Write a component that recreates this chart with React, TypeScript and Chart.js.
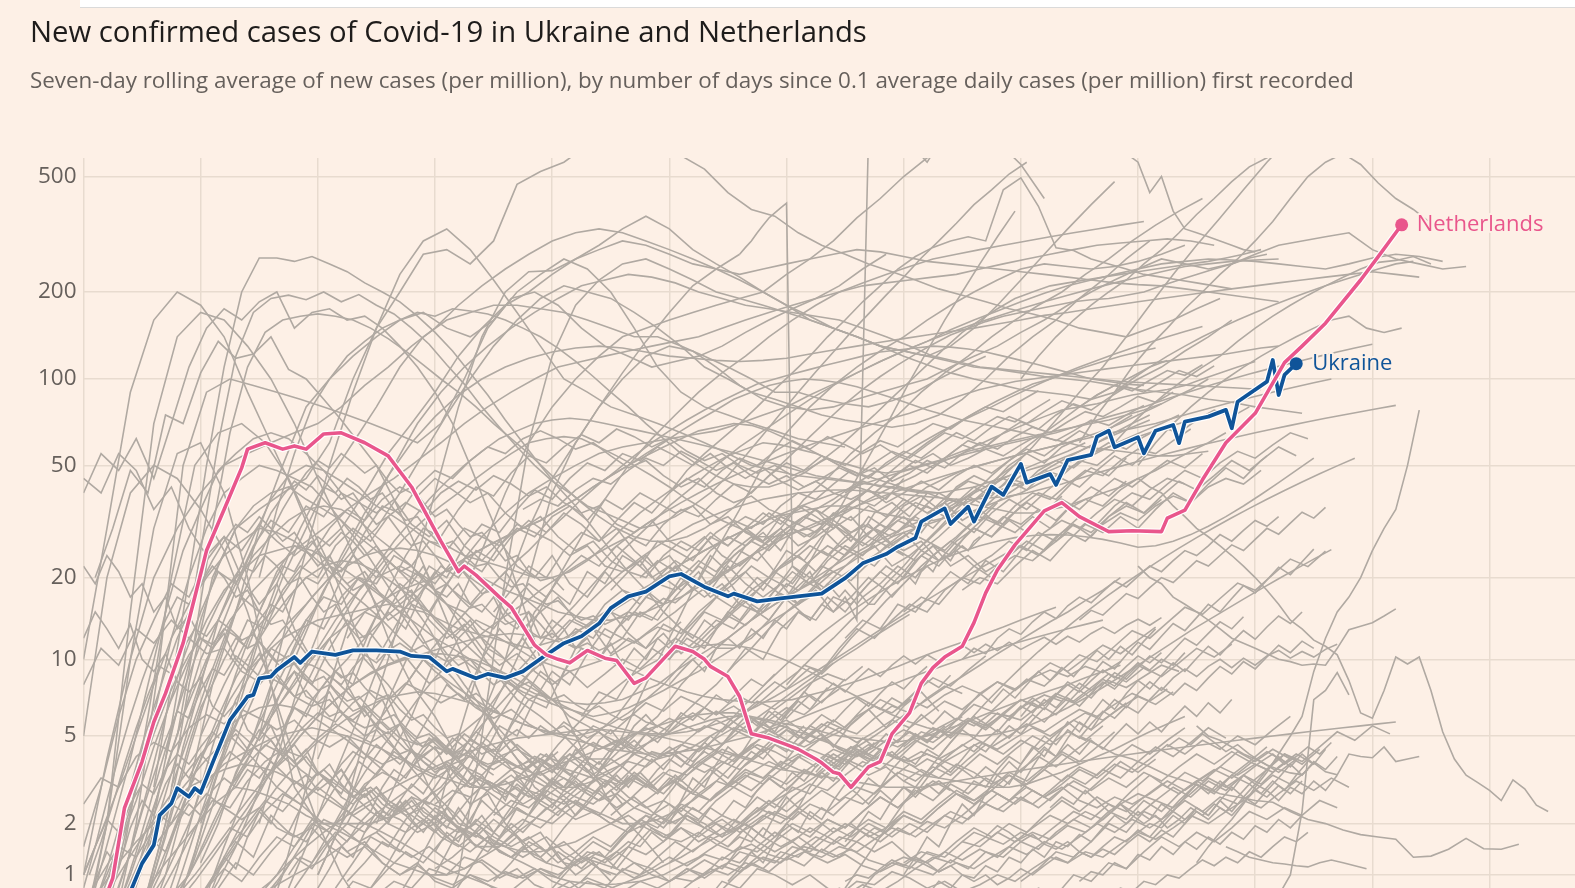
import React, { useEffect, useRef } from "react";
import { Chart, registerables } from "chart.js";

Chart.register(...registerables);

// ---------- axis / tick data ----------
const yTickValues = [1, 2, 5, 10, 20, 50, 100, 200, 500];
const xTickStep = 20;
const xMaxDay = 265;
const yMaxValue = 579;

// ---------- highlighted series (days since 0.1 cases per million, 7-day avg per million) ----------
const netherlandsDays = [0,2,5,7,10,12,14,17,19,21,24,27,28,31,34,36,38,41,44,48,52,56,61,64,65,67,71,73,77,79,81,83,86,89,91,94,96,101,104,106,107,110,112,114,117,120,122,125,126,128,129,131,134,136,138,141,143,145,147,150,152,154,156,159,160,164,167,170,175,179,184,185,188,191,195,200,204,205,208,212,218,221,224,225];
const netherlandsCases = [0.12,0.35,0.95,2.4,3.9,5.7,7.4,11.5,17,25,35,49,57,60,57,58.5,57,64.4,65,60,54,42,27,21,22,20.4,17,15.6,11.3,10.4,10,9.7,10.8,10.1,9.9,8.1,8.5,11.2,10.7,10,9.4,8.6,7.2,5.1,4.9,4.6,4.4,4.0,3.85,3.5,3.45,3.0,3.7,3.9,5.1,6.2,8.1,9.3,10.2,11.2,13.7,17.6,21.3,26.2,27.7,34.6,37,33,29.2,29.4,29.2,32.6,34.8,44.5,60,76,105,114,130,156,220,265,320,341];

const ukraineDays = [0,4,8,10,12,13,15,16,18,19,20,22,25,28,29,30,32,33,36,37,39,43,46,50,54,56,59,62,63,67,69,72,75,79,82,85,88,90,93,96,100,102,106,110,111,115,119,126,130,133,137,139,142,143,147,148,151,152,155,157,160,161,165,166,168,172,173,175,176,180,181,183,186,187,188,192,195,196,197,202,203,204,205,207];
const ukraineCases = [0.1,0.3,0.75,1.19,1.53,2.21,2.52,2.97,2.71,2.97,2.83,3.83,5.8,7.19,7.3,8.47,8.6,9.1,10.2,9.7,10.7,10.4,10.8,10.8,10.7,10.3,10.2,9.0,9.2,8.47,8.8,8.5,9.0,10.4,11.5,12.2,13.6,15.5,17.1,17.8,20.2,20.6,18.5,17.1,17.5,16.4,16.8,17.5,19.9,22.5,24.3,25.8,27.7,31.7,35.3,31.1,35.8,31.7,42.1,39.4,50.6,43.5,46.6,42.7,52.2,54.4,63,66.1,57.9,62.7,55.1,66.1,69.2,59.8,71.1,74,78.1,67.4,83.4,97.9,116.4,88,103.3,113];

// ---------- other countries: [first day, day step, values] ----------
type Series = [number, number, number[]];

const greyHigh: Series[] = [
  [0,3,[40,55,48,62,45,70,110,150,175,160,185,200,150,170,175,160,165,150,130,110,90,70,50,35,25,16,10,7,5,3.5,2.5,2,1.6,1.2]],
  [2,3,[20,30,48,40,75,70,105,135,118,122,140,108,100,85,72,60,50,38,28,20,14,10,7,5,4,3,2.6]],
  [12,3,[3,8,20,50,110,200,262,262,255,265,250,235,215,200,185,165,145,125,105,88,72,60,50,42,36,30,25,21,18,15,13,12,11,11,12,14,17,21,27,35,45,58,75,98,125,160,200,250,310,380]],
  [14,3,[4,10,25,60,120,170,190,195,188,200,185,196,180,168,150,132,112,96,80,68,58,50,44,40,36,34,32,30,31,33,36,40,46,54,64,76,90,106,124,145,168,195,225,262,300,345,400,450,510,560]],
  [16,3,[5,12,30,65,110,145,160,165,168,165,160,150,138,125,112,100,90,80,70,62,55,48,42,37,33,30,28,27,27,28,30,33,37,42,48,55,63,72,82,92,102,112,122,132,142,150,158,165,170,175,180,185,188,190,195,200,210,220,230,240,250,262,270]],
  [30,3,[20,35,55,80,100,120,135,150,160,170,165,175,172,168,160,150,140,128,115,102,90,80,70,62,55,50,46,43,42,42,44,47,52,58,66,75,86,98,112,128,145,160,175,190,200,210,215,220,225,230,235,240,245,250,255,262,270,280]],
  [30,4,[5,12,25,50,90,150,200,270,280,250,300,470,520,560,640,700,680,640,590,530,440,385,365,320,290,270,250,235,220,205,195,185,175,168,160,150,145,140,150,160,175,190]],
  [40,4,[1,2,5,10,20,40,80,140,200,235,237,260,290,330,365,330,280,250,225,200,180,165,150,140,130,120,112,105,100,96,92,90,88,85,90,100,110,125,140,160]],
  [60,4,[2,5,10,18,30,45,60,80,105,135,170,210,240,270]],
  [112,1,[270,285,300,320,340,360,375,390,405,22,21,20,21,19,18,19,18,17,18,17,16,17,16,16,17,18,17,18,19,20,19,21,22,21,23,24,23,25,26,25,27,28]],
  [100,2,[8,9,10,9,11,12,11,13,12,14,13,15,14,16,15,17,14,700,900,800,700,620,560,650,750,800,760,700,620,590,650,720,760,740,700,680,660,640,620,600,560,440,500,380,330,320,310,300,290,280,275]],
  [100,3,[40,48,55,62,70,80,92,105,120,140,160,185,210,240,265,285,300,310,300,450,495,395,284,278,260,250,240,230,225,220,215,210,205]],
  [10,4,[0.5,2,8,20,30,35,40,45,60,100,150,230,300,330,280,220,170,130,100,90,80,75,70,65,60,55,50,48,46,45,44,43,42,41,40]],
  [5,4,[0.3,2,10,50,90,100,95,90,85,80,75,70,65,60,70,100,150,190,200,180,150,130,120,110,115,120,130,145,160,175,190,210,240,270]],
  [10,4,[0.2,0.5,1,3,6,12,20,30,45,60,80,110,140,160,170,180,180,175,170,160,150,140,140,130,120,110,100,90,90,85,82,80,84,90,100,110,120]],
  [10,4,[0.2,1,3,8,15,30,50,80,100,120,140,160,170,150,140,160,200,230,260,240,200,150,110,90,80,75,70,66,62,60,58]],
  [0,4,[0.3,2,10,30,55,60,40,20,8,3,2,2,3,4,6,10,16,25,40,60,80,100,120,140,150,160,170,180,190,200,230,260,300,360,420,500,580,650,700,660,550,420]],
  [20,4,[5,8,12,15,20,25,30,40,55,70,90,120,150,180,200,230,260,280,300,290,270,250,240,230,240,250,260,270,280,275,265,255,250,245,240,235,230,225,220,215,212,210,205,200,195,190,185]],
  [25,4,[3,5,8,12,18,25,35,50,70,90,110,130,150,170,190,210,220,230,225,215,200,190,180,175,170,165,160,150,140,130,120,115,110,108,106,104,102,100,98,97,96,95,94,93,92]],
  [0,4,[1,4,10,20,30,40,50,55,60,65,70,80,95,110,130,150,180,210,240,270,300,320,330,320,300,280,260,240,220,200,180,160,150,140,130,125,120,115,110,108,105,102,100,98,95,92,90,88,85,83,80,78,76]],
  [0,4,[0.2,2,15,70,140,170,160,130,100,70,45,30,20,12,8,6,4,3,2.5,2.2,2,2.5,3.5,5,8,12,18,25,35,50,65,80,95,110,125,140,160,180,200,220,240,250,245,240,245,255,270,290]],
  [3,4,[0.3,1.5,6,20,50,65,70,60,45,30,20,12,8,5,3,2,1.5,1.5,2,3,4,5,6,8,10,13,16,20,25,30,38,45,55,65,75,90,105,120,140,160,180,200,230,260,300,340,380,420]],
  [30,4,[0.2,1,3,8,15,20,22,20,16,12,9,7,6,5,4,4,5,6,8,10,12,14,16,18,20,22,25,28,30,32,35,40,48,58,72,90,110,140,180,230,290,360,450,560,680]],
  [10,4,[0.5,1,2,4,7,10,13,16,20,25,30,40,55,75,100,130,160,190,210,200,190,170,150,130,110,100,90,85,80,75,72,70,68,70,75,85,100,120,140,160,190,220,260,300]],
  [5,4,[0.3,1,3,6,10,14,18,22,26,30,35,40,45,52,60,70,80,90,100,110,115,120,125,130,135,140,150,160,170,180,190,200,215,230,245,260,270,280,290,300,310,320,330,340,350]],
  [0,4,[5,20,40,50,45,35,25,15,8,4,2,1,0.5,0.3,0.2,0.3,1,5,20,60,120,180,220,250,260,240,220,200,190,180,170,160,150,140,130,125,120,130,150,180,220,270,330,400,480]],
  [0,4,[10,30,90,160,200,180,140,90,60,40,25,15,10,8,6,5,4,6,10,20,40,60,80,100,120,130,125,110,95,85,80,78,80,85,90,95,100,110,120,130,145,160,180,200,220,240,260,250,240,250,270,290,300,310,320,280,260,250,240,245]],
  [40,4,[1,2,4,7,11,16,22,28,34,40,45,50,55,58,60,62,64,66,70,75,80,88,96,105,115,125,135,148,160,172,185,198,210,220,230,240,250,255,260,258,255,250,245,240,250,262,270,265,255]],
  [20,4,[0.5,1.5,3,6,10,16,24,34,46,60,74,88,100,110,118,124,128,130,128,124,120,118,116,115,116,118,122,126,130,134,138,142,146,150,155,160,166,170,175,180,185,190,195,200,205,210,215,220,225,230,235,230,225]],
  [20,4,[0.2,0.4,0.6,0.8,1,1.2,1.5,2,2.5,3,4,5,6,8,10,13,16,20,25,30,36,42,50,58,66,75,85,95,105,115,125,135,145,155,165,175,185,195,205,215,225,235,245,250,255,258,260]],
  [5,4,[0.3,1,2,3,4,5,4,3,2.5,2,2,2,2.2,2.5,3,4,6,9,14,20,28,38,50,62,75,90,105,120,140,160,180,200,210,215,220,225,230,240,250,260,270,280,290,295,300,305,300,290]],
];

const greyMid: Series[] = [
  [5,3,[0.2,0.6,1.5,4,8,14,22,30,36,40,42,38,35,32,28,25,22,20,18,16,15,13,12,11,10,9.5,9,9.5,10,11,12,13.5,15,17,19,21,23,26,29,32,35,38,42,46,50,55,60,65,70,75,80,86,92,98,104,110,116,122,128,134,140,146,152]],
  [8,3,[0.3,0.8,2,4.5,8,14,20,28,38,46,50,48,44,40,36,33,30,27,26,24,23,22,21,20,20,21,23,26,30,34,38,42,46,50,54,57,60,59,57,55,52,50,48,47,48,50,52,55,58,62,66,70,74,78,80,82,85,88,90,92,95,100,105,110,115]],
  [10,3,[0.2,0.4,0.7,1.2,2,3,4,5.5,7,9,11,14,17,20,24,28,32,36,40,45,50,55,60,62,63,62,58,54,50,46,42,38,35,32,30,28,28,29,30,32,34,37,40,43,46,50,53,56,58,60,62,64,66,68,70,72,75,78,82]],
  [3,3,[0.5,1.2,3,6,12,20,30,40,45,50,48,45,42,36,30,25,20,16,13,10,8.5,7,6,5,4.2,3.5,3,3,3.2,3.5,4,4.6,5.3,6,7,8,9.5,11,13,15,17,20,23,26,30,34,38,42,45,48,50,52,54,56,58,60,63,66,70,75,80,86,92,100]],
  [12,3,[0.4,0.7,1,1.6,2.5,3.5,5,6.5,8,10,12,13.5,15,16.5,18,19,20,22,24,26,28,30,32,35,38,42,46,50,54,58,62,66,68,70,69,66,62,58,54,50,47,45,43,41,40,38,37,36,35,34,34,35,36,38,40,42,45,48,52,56,60,65]],
  [0,3,[1,1.8,3,5,8,12,16,20,24,27,30,29,27,24,21,18,16,14,12,10.5,9,8,7.2,6.5,6,5.6,5.3,5.1,5,5.2,5.6,6.2,7,8,9.5,11,13,15,17,20,23,26,30,34,38,43,48,54,60,66,72,78,84,90,96,100,105,110,115,120,124,128]],
  [15,3,[0.3,0.5,0.8,1.3,2,2.8,4,5.2,7,8.5,10,12,14,16,18,20,22,24,26,28,30,32,35,38,42,46,50,55,60,66,72,78,85,90,95,98,100,99,97,94,90,86,82,78,75,72,70,68,66,64,62,60,58,57,56,55,54,54,55,56]],
  [20,3,[0.5,0.9,1.5,2.5,4,6,8,11,14,18,22,27,32,38,44,50,56,62,66,70,72,73,72,70,68,66,64,62,60,58,56,54,52,50,48,46,45,44,43,42,41,40,40,41,42,44,46,48,50,53,56,60,64,68,72]],
  [5,3,[0.4,1,2,3.5,6,10,14,19,24,28,32,35,36,35,32,28,25,22,19,16,14,12,10.5,9,8,7,6,5.5,5,4.6,4.3,4,4.2,4.5,5,5.5,6.2,7,8,9,10.5,12,14,16,19,22,26,30,35,40,46,52,58,65,72,80,88,95,102,110,116]],
  [25,3,[0.2,0.35,0.6,1,1.5,2.2,3,4,5.2,6.5,8,10,12,14,16.5,19,22,25,29,33,38,43,48,54,60,66,72,78,84,90,96,100,104,108,112,116,120,124,126,128,130,129,127,124,120,116,112,108,104,100,98,96,95]],
  [2,3,[0.8,2,4,8,15,25,35,48,55,62,65,62,55,48,40,33,26,20,16,13,10,8,6.5,5,4,3.4,3,2.6,2.4,2.2,2,2,2.1,2.3,2.6,3,3.6,4.3,5,6,7,8.5,10,12,14,16.5,19,22,25,28,32,36,40,44,48,52,56,60,65,70,75]],
  [10,3,[0.5,1,2,3.5,5,7,9,10.5,12,13,14,14.5,15,15.5,16,15.5,15,14,13,12.5,12,11.5,11,11.5,12,13,14,15.5,17,19,21,23,25,27,29,31,33,34,35,36,36,35,34,33,32,32,33,34,36,38,40,43,46,50,54,58,62,66,70,75]],
  [30,3,[0.3,0.5,0.8,1.2,1.8,2.6,3.5,4.5,5.6,7,8.5,10,11.5,13,14.5,16,18,20,22,24,26,28,31,34,37,40,43,46,49,52,55,58,61,64,67,70,73,76,80,84,88,92,95,98,100,102,104,106,108,110,112,114,116,118,120,122,125,128,130]],
  [40,3,[0.2,0.3,0.5,0.8,1.2,1.8,2.5,3.3,4.2,5.2,6.3,7.5,8.8,10,11.5,13,14.5,16,17.5,19,21,23,25,27,29,31,33,35,37,39,41,43,45,47,49,51,53,55,57,59,61,63,65,68,71,74,77,80,84,88,92,96,100,104,108,112,116,120,124,128,132]],
  [0,3,[0.4,0.8,1.5,2.6,4.5,7,10,14,18,21,24,25,26,25,23,21,19,17,15,13.5,12,11,10,9,8.2,7.5,7,6.6,6.3,6,6.2,6.5,7,7.6,8.3,9,10,11,12.3,13.7,15,16.5,18,20,22,24,26.5,29,32,35,38,41,44,47,50,53,56,60]],
  [50,3,[0.3,0.6,1,1.6,2.4,3.4,4.6,6,7.6,9.4,11.4,13.6,16,18.5,21,23.5,26,28.5,31,33,35,36.5,38,39,40,40.5,41,41,40.5,40,39.5,39,38.5,38,38,38.5,39,40,41.5,43,45,47,49,51,53,55,57,59,61,63,65,67,69,71,73,75,77,79,81]],
  [18,3,[1,2,3.5,5.5,8,11,14,17,20,22,24,25,25.5,25,24,22.5,21,19.5,18,17,16,15,14.5,14,14,14.5,15,16,17,18.5,20,22,24,26,28,30,32,34,36,38,40,42,44,46,48,50,52,54,56,58,60,62,64,66,68,70,73,76,79,82,85,88,91,94,97,100]],
  [8,3,[0.3,0.7,1.4,2.5,4,6,8.5,11,14,17,20,22,23,22.5,21,19,17,15,13,11.5,10,9,8,7.4,7,6.8,6.7,6.8,7,7.5,8,9,10,11,12,13.5,15,16.5,18,20,22,24,26,28,30,32,34,36,38,40,42,44,47,50,53,56,59,62,65,68,71,74,77]],
  [90,3,[1.1,1.5,2,2.6,3.3,4.1,5,6,7.1,8.3,9.6,11,12.5,14,15.6,17.2,18.8,20.4,22,23.5,24.8,26,27,27.8,28.3,28.5,28.4,28,27.4,26.6,25.7,26,27,28.5,30.5,33,36,39.5,43.5,48,53]],
  [130,3,[0.8,1.2,1.7,2.3,3,3.8,4.7,5.7,6.8,8,9.3,10.7,12.2,13.8,15.5,17.3,19.2,21.2,23.3,25.5,27.8,30.2,32.7,35.3,38,40.8,43.7,46.7,49.8,53]],
  [60,3,[0.4,0.7,1.1,1.6,2.2,2.9,3.7,4.6,5.5,6.5,7.5,8.5,9.4,10.2,10.8,11.2,11.4,11.3,11,10.5,9.9,9.2,8.5,7.8,7.2,6.6,6.1,5.7,5.4,5.2,5.1,5,5.1,5.3,5.6,6,6.5,7.1,7.8,8.6,9.5,10.5,11.6,12.8,14,15.3,16.7,18.2,19.8,21.5,23.3,25.2]],
  [25,3,[2,2.6,3.3,4.1,5,6,7,8,8.9,9.6,10.1,10.4,10.5,10.3,9.9,9.3,8.6,7.9,7.2,6.6,6.1,5.7,5.4,5.2,5.1,5.1,5.2,5.4,5.7,6.1,6.6,7.2,7.9,8.7,9.6,10.6,11.7,12.9,14.2,15.6,17.1,18.7,20.4,22.2,24.1,26.1]],
];

const greyJaggedMid: Series[] = [
  [20,3,[1.2,2,3.5,5,8,11,14,13,17,20,19,24,22,27,25,30,28,26,31,29,27,24,26,22,21,23,19,18,20,17,19,21,18,22,24,21,25,28,26,30,33,29,35,38,34,40,44,41,47]],
  [35,3,[0.8,1.5,2.6,4,6,9,12,16,15,19,23,21,26,30,28,33,36,32,38,35,40,37,34,36,31,33,29,27,30,26,28,31,27,33,30,36,39,35,42,46,43,50,55,51,58,62]],
  [5,3,[0.6,1.4,3,6,10,15,21,19,26,32,29,36,33,40,37,34,38,31,28,32,26,23,27,22,20,24,19,17,21,18,16,19,22,18,24,21,26,29,25,32,35,30,37,41,38,45]],
  [50,3,[2,3,4.5,6,8,7,10,13,11,15,18,16,21,19,24,22,27,25,23,28,26,30,27,33,31,29,34,32,36,33,38,35,40,37,42,39,45,43,48,46,52,50,56]],
  [15,3,[3,5,8,12,17,15,21,26,24,30,35,32,38,42,39,45,41,37,40,34,30,33,28,25,27,23,21,24,20,18,21,17,19,22,20,25,23,28,31,27,34,37,33,40]],
  [70,3,[4,5.5,7,6.5,9,11,10,13,15,14,17,20,18,22,25,23,27,30,28,32,29,26,29,25,23,26,22,24,21,23,26,24,28,31,29,33,36,34,38]],
  [40,3,[6,9,8,12,15,13,18,22,20,25,23,28,32,29,34,31,27,30,25,22,24,20,18,21,17,15,18,16,14,17,15,18,21,19,23,26,24,29,33,31,36,40,38,44,49,46,53]],
  [100,3,[10,12,11,14,16,15,18,21,19,23,26,24,28,32,30,35,38,36,41,45,42,48,52,49,55,60,57,63,68,65,72,78,74,80]],
  [10,2,[0.5,1,1.8,3,4.6,6.5,8,10,12,11,14,16,15,18,20,19,22,21,24,22,20,23,21,19,22,18,17,19,16,15,17,14,13,15,12,14,13,11,12,10,11.5,9.5,11,10,12,11,13,12,14,13,15,14,16,15,17,19,18,20,22,21]],
  [60,3,[1,1.6,2.4,3.5,5,7,9,8,11,13,12,15,18,16,20,23,21,25,28,26,30,33,31,35,38,36,40,37,34,37,32,35,31,29,33,30,35,38,36,41,45]],
  [120,3,[8,9.5,9,11,13,12,14,16,15,18,20,19,22,24,23,26,29,27,31,34,32,36,39,37,42,45,43,48]],
  [25,3,[10,14,13,18,22,20,26,30,27,33,37,34,40,44,41,46,43,39,42,37,34,36,31,29,32,27,25,28,24,22,25,21,23,26,24,28,31,29,33,37,35,40,44,42,47,52]],
  [80,3,[12,14,13,16,18,17,20,23,21,25,28,26,30,33,31,35,32,29,31,27,25,27,23,25,22,24,27,25,29,32,30,34,38,36,41,45,43]],
  [0,3,[1.5,3,6,10,14,19,17,23,28,25,31,27,24,27,22,19,21,17,15,17,14,12,14,11,10,12,9.5,11,13,12,15,14,17,16,19,22,20,24,27,25,29,33,31]],
  [140,3,[15,17,16,19,22,20,24,27,25,29,33,31,36,40,38,43,48,45,51,56,53,59,65,62]],
  [90,3,[18,21,20,24,27,25,29,32,30,34,31,28,30,26,24,26,22,24,27,25,29,33,31,36,40,38,43,48,46,52,57,55,61,67]],
  [30,3,[5,7,9,8,11,14,12,16,19,17,21,18,16,19,15,13,15,12,11,13,10.5,12,11,13.5,12.5,15,17,15.5,18,20,18.5,22,25,23,27,30,28,32,36,33,38,42]],
  [55,3,[8,10,9,12,14,13,16,19,17,21,24,22,26,23,20,22,19,17,19,16,18,21,19,23,26,24,28,31,29,33,30,35,39,36,41,46]],
  [85,3,[6,7.5,7,9,11,10,12.5,15,14,17,20,18,22,20,18,20,17,19,22,20,24,27,25,29,33,31,35,32,37,42,39,44]],
  [110,3,[9,11,10,13,15,14,17,16,19,22,20,24,22,26,30,28,32,29,34,38,35,40,45,42,47,52,49,55]],
  [130,3,[12,14,13,16,15,18,21,19,23,21,25,29,27,31,28,33,37,34,39,44,41,46,52,48,54]],
  [45,3,[12,15,14,18,21,19,23,20,18,21,17,15,17,14,13,15,12.5,11,12.5,10.5,12,14,13,15.5,14,17,19.5,18,21,24,22,26,29,27,31,35,32,37]],
  [65,3,[3,4,5.5,5,7,9,8,10.5,13,12,15,14,17,20,18,22,19,17,19,16,18,15,17,20,18,21,25,23,27,30,28,33,37,34,39]],
  [150,3,[18,20,19,22,25,23,27,31,29,33,30,35,40,37,43,49,45,52,58,54]],
  [20,3,[2,3.5,5.5,8,11,10,14,17,16,20,18,16,18,14,12,13.5,11,9.5,10.5,9,8,9,7.8,8.8,10,9.2,10.6,12,11,12.8,14.5,13.4,15.5,17.5,16,18.5,21,19.5,22.5,26,24]],
  [95,3,[20,23,21,25,29,26,30,34,31,36,33,30,33,28,26,29,25,28,32,29,34,38,35,40,45,42,48,54,50,57]],
];

const greyUpperMid: Series[] = [
  [50,3,[10,13,17,22,20,26,31,29,35,41,38,45,51,48,55,52,58,54,50,55,49,45,49,44,41,44,40,38,41,37,40,44,41,46,50,47,52,57,54,60,66,62,69,75]],
  [70,3,[15,18,22,20,25,29,27,32,37,34,40,45,42,48,53,50,56,61,57,63,59,55,59,54,51,55,50,53,57,54,59,64,61,66,72,69,75,81]],
  [90,3,[25,28,26,31,35,33,38,43,40,46,51,48,54,50,46,49,44,47,52,49,55,60,57,63,68,65,71,77,74,80,87,83,90]],
  [40,3,[4,6,9,13,18,24,30,28,35,42,39,47,54,51,58,64,60,67,63,58,62,56,52,55,50,47,50,46,49,53,50,56,61,58,64,70,67,74,80,77,84,91]],
  [110,3,[30,33,31,36,40,38,43,48,45,51,56,53,59,65,61,68,74,70,77,84,80,88,95,91,99,107,103,112]],
  [30,3,[2,4,7,11,16,22,29,36,34,42,48,45,52,58,55,62,66,62,57,60,54,49,52,46,42,45,40,37,39,35,33,36,34,38,42,40,45,50,47,53,59,56,63]],
  [130,3,[40,44,42,47,52,49,55,61,58,65,71,67,75,82,78,86,94,90,98,107,102,111]],
  [75,3,[35,38,36,41,45,43,48,53,50,56,52,48,51,46,43,46,42,45,49,46,51,56,53,59,65,62,68,74,71,78,85]],
  [150,2,[10,11,10.5,12,13,12.4,13.8,15,14.2,15.8,17,16.2,17.8,19.4,18.5,20.2,22,21,23,25,24,26,28.5,27,29.5,32,30.5,33]],
  [160,2,[6,6.8,6.4,7.3,8.2,7.7,8.7,9.8,9.2,10.4,11.6,10.9,12.2,13.6,12.8,14.3,16,15,16.8,18.7,17.6,19.6,21.8,20.5,22.8,25.3]],
  [170,2,[14,15.2,14.6,16,17.5,16.8,18.4,20,19.2,21,23,22,24,26.2,25,27.4,30,28.6,31.3,34.2,32.6,35.6]],
  [140,3,[4.5,5.2,4.9,5.8,6.7,6.3,7.3,8.4,7.9,9.1,10.4,9.8,11.2,12.8,12,13.7,15.6,14.7,16.8,19.1,18,20.5,23.3,21.9,24.9]],
];

const greyLow: Series[] = [
  [0,3,[0.2,0.35,0.6,1,1.5,2,2.6,3.2,3.8,4.2,4.6,5,5.2,5.4,5.2,5,4.7,4.4,4,3.7,3.4,3.2,3,3,3.1,3.3,3.5,3.8,4,4.3,4.6,5,5.3,5.6,5.9,6.1,6.2,6.2,6,5.8,5.6,5.4,5.2,5,4.9,4.8,4.7,4.8,5,5.3,5.6,6,6.4,6.8,7.2,7.6,8,8.5,9,9.5]],
  [5,3,[0.3,0.5,0.8,1.2,1.6,2.1,2.6,3,2.9,2.7,2.5,2.2,2,1.8,1.6,1.4,1.2,1.1,1,1,1.1,1.3,1.5,1.8,2.1,2.5,2.9,3.3,3.7,4.1,4.5,4.9,5.2,5.5,5.8,6,6,5.8,5.5,5.2,4.9,4.6,4.3,4,3.8,3.6,3.4,3.3,3.2,3.1,3,3,3.1,3.3,3.5,3.8,4.1,4.4,4.8,5.2,5.6,6]],
  [10,3,[0.2,0.4,0.6,0.9,1.3,1.8,2.4,3.2,4,5,6,7,8,8.8,9.5,10,10.5,11,11.5,12,12.3,12.5,12.3,12,11.5,11,10.3,9.6,9,8.4,7.9,7.5,7.2,7,6.9,6.8,6.9,7,7.3,7.6,8,8.4,8.9,9.4,10,10.6,11.2,11.8,12.5,13.2,14,14.8,15.6]],
  [0,3,[0.5,0.8,1.2,1.6,2,2.5,3,3.3,3.6,3.8,3.7,3.5,3.2,2.9,2.6,2.3,2,1.8,1.6,1.4,1.2,1.05,0.95,0.85,0.75,0.7,0.65,0.62,0.65,0.7,0.8,0.9,1,1.15,1.3,1.5,1.7,1.9,2.2,2.5,2.8,3.1,3.5,4,4.5,5,5.6,6.3,7,7.8,8.6,9.5,10.5,11.5,12.6,13.8,15,16.5,18,20]],
  [15,3,[0.3,0.5,0.8,1.2,1.7,2.3,3,3.7,4.5,5.2,5.9,6.5,7,7.3,7.5,7.4,7.1,6.8,6.4,6,5.6,5.3,5,4.8,4.6,4.4,4.3,4.2,4.2,4.3,4.4,4.6,4.8,5,5.3,5.6,6,6.4,6.8,7.2,7.6,8,8.5,9,9.5,10,10.5,11,11.5,12,12.5,13,13.5,14]],
  [20,3,[0.2,0.3,0.5,0.7,0.9,1.2,1.5,1.8,2.1,2.4,2.7,3,3.3,3.6,3.9,4.2,4.5,4.7,4.9,5,5.1,5.2,5.3,5.3,5.2,5.1,5,4.8,4.6,4.4,4.2,4,3.8,3.6,3.5,3.4,3.3,3.2,3.1,3,3,3,3.1,3.2,3.3,3.4,3.5,3.6,3.7,3.8,3.9,4,4.1,4.2,4.3,4.4,4.5,4.6,4.7,4.8,4.9,5,5.1,5.2,5.3,5.4,5.5,5.6,5.7]],
  [10,2,[1.2,1.6,1.4,2,2.5,2.2,2.9,3.3,3,3.6,3.3,3.9,3.5,3.1,3.4,2.9,3.2,2.7,2.5,2.8,2.3,2.1,2.4,2.2,2,1.8,2.1,1.9,1.7,2,2.3,2.1,2.5,2.9,2.6,3.1,3.6,3.3,3.9,3.6,4.2,4.8,4.4,5.1,4.7,5.4,6.2,5.8,6.5,7.3,6.8,7.6,8.4,7.9,8.8]],
  [40,2,[0.8,1.1,1.5,1.3,1.8,2.3,2,2.6,3.1,2.8,3.4,3.9,3.6,4.2,4.7,4.3,4.9,5.3,4.9,5.5,5.1,5.7,5.3,4.9,5.2,4.7,4.4,4.8,4.3,4.1,4.5,4.2,3.9,4.3,4,3.8,4.2,4.6,4.3,4.8,5.3,4.9,5.5,6.1,5.7,6.4,7.1,6.6,7.4,8.2,7.7,8.6,9.4]],
  [70,2,[1.5,1.9,2.4,2.2,2.8,3.3,3,3.6,4.1,3.8,4.4,4.9,4.5,5.1,5.5,5.2,5.8,6.2,5.8,6.3,5.9,5.5,5.9,5.4,5.1,5.5,5,4.7,5.1,4.6,4.3,4.6,4.2,4,4.3,3.9,3.7,4,3.8,4.2,4.6,4.3,4.8,5.3,4.9,5.5,6.1,5.7,6.4,7.1,6.6,7.4,8.2,7.7,8.6,9.5,9]],
  [100,2,[2,2.6,3.3,3,3.8,4.5,4.1,4.9,5.7,5.2,6.1,6.9,6.4,7.3,8.1,7.5,8.4,9.2,8.6,9.5,10.3,9.6,10.4,9.8,10.7,11.3,10.6,11.4,10.8,11.6,10.9,11.5,12.1,11.4,12.2,11.6,12.5,13.2,12.5,13.4,14.1,13.4,14.3]],
  [140,2,[1,1.3,1.7,1.5,2,2.5,2.2,2.8,3.4,3.1,3.8,4.5,4.1,4.9,5.7,5.2,6.1,7,6.4,7.4,8.3,7.7,8.7,9.7,9,10.1,11.2,10.4,11.6,12.8,11.9,13.2,14.5,13.6,15]],
  [160,2,[3,3.7,4.4,4.1,4.9,5.7,5.3,6.2,7,6.5,7.4,8.2,7.6,8.5,9.2,8.6,9.4,10,9.3,10.1,9.5,10.3,10.8,10.1,10.7,10.2,10.9,11.4]],
  [0,2,[0.5,0.9,1.4,1.1,1.9,2.6,2.2,3.1,3.8,3.3,4.2,3.7,4.6,5.1,4.4,5.3,4.8,4.1,4.6,3.9,3.4,3.8,3.1,2.7,3.0,2.5,2.2,2.6,2.1,1.8,2.2,1.9,2.4,2.0,2.7,3.1,2.6,3.4,2.9,3.7,4.2,3.6,4.4,3.9,4.8,5.3,4.6,5.5,6.1,5.4]],
  [20,3,[0.7,1.1,1.6,1.3,2.2,1.8,2.7,3.3,2.8,3.9,3.4,4.3,3.8,4.9,4.2,5.1,4.5,3.9,4.6,4.0,3.5,4.2,3.6,3.1,3.7,3.2,2.8,3.4,2.9,3.6,3.1,3.8,4.4,3.7,4.6,5.3,4.5,5.6,6.4,5.4,6.6,7.5,6.3]],
  [45,3,[0.9,1.2,1.6,1.4,1.9,2.4,2.1,2.7,3.2,2.9,3.5,4,3.6,4.2,4.7,4.3,4.9,5.4,5,5.6,5.2,5.8,5.3,4.9,5.3,4.8,4.5,4.9,4.4,4.1,4.5,4.1,3.9,4.2,3.9,4.3,4.7,4.4,4.9,5.4,5,5.6,6.2,5.8,6.5,7.2,6.7,7.5]],
  [80,3,[0.8,1.1,1.4,1.3,1.7,2.1,1.9,2.4,2.9,2.6,3.1,3.6,3.3,3.8,4.2,3.9,4.4,4.1,4.6,4.3,3.9,4.3,4,4.4,4.9,4.5,5,5.6,5.2,5.8,6.4,6,6.7,7.4,6.9,7.7]],
  [30,2,[3,4,5.2,6.5,6,7.4,8.6,8,9.3,10.4,9.7,10.8,11.5,10.7,11.3,10.4,9.8,10.3,9.5,8.8,9.2,8.4,7.8,8.2,7.5,7,7.3,6.7,6.3,6.6,6.1,5.8,6.1,5.7,5.5,5.9,5.6,6,6.5,6.1,6.7,7.2,6.8,7.5,8.2,7.7,8.5,9.3,8.8,9.7]],
  [110,2,[1.2,1.5,1.9,1.7,2.2,2.7,2.4,3,3.5,3.2,3.7,4.2,3.9,4.4,4.1,4.6,5.1,4.7,5.3,4.9,5.4,6,5.6,6.2,5.8,6.5,7.1,6.6,7.3,8,7.5,8.3,9.1,8.5,9.4,10.3,9.7,10.6]],
  [0,3,[0.3,0.6,1,1.5,2.1,2.8,3.6,4.5,5.3,6,6.5,6.7,6.5,6,5.4,4.8,4.2,3.6,3.1,2.7,2.3,2,1.8,1.6,1.5,1.4,1.4,1.5,1.6,1.8,2,2.3,2.6,3,3.4,3.9,4.4,5,5.7,6.4,7.2,8.1,9,10,11,12.2,13.4,14.7]],
  [15,2,[0.6,1.1,1.8,2.7,3.8,5,6.3,7.5,8.5,9.2,9.6,9.7,9.5,9,8.3,7.5,6.7,5.9,5.2,4.5,3.9,3.4,3,2.6,2.3,2,1.8,1.6,1.4,1.3,1.2,1.1,1,0.95,0.9,0.88,0.86,0.85,0.86,0.88,0.9,0.95,1,1.1,1.2,1.3,1.45,1.6,1.8,2,2.2,2.5,2.8,3.1,3.5]],
  [0,2,[22,19,24,21,17,19,15,17,13,14.5,12,11,12.5,10,9,10.5,8.5,8,9,7.2,6.8,7.5,6.2,5.8,6.4,5.4,5.1,5.6,4.8,4.5,4.9,4.3,4,4.4,3.8,3.6,3.9,3.4,3.2,3.5,3.1,2.9,3.2,2.8,2.6,2.9,2.5]],
  [0,3,[8,11,9.5,13,11.5,14,12,10.5,11,9,8.2,8.8,7.2,6.6,7,5.9,5.4,5.7,4.9,4.6,4.9,4.3,4.1,3.8,4,3.6,3.4,3.7,3.5,3.3,3.6,3.9,3.7,4.2,4.6,4.3,4.9,5.4,5.1,5.8,6.5,6.1,6.9,7.7]],
  [0,2,[12,15,13,11,13.5,10,9,10.5,8.2,7.5,8.5,6.6,6,6.8,5.3,4.8,5.5,4.3,3.9,4.4,3.5,3.2,3.6,2.9,2.7,3,2.5,2.3,2.6,2.2,2,2.2,1.9,1.7,1.9,1.6,1.5,1.7,1.4,1.3,1.5,1.2,1.15,1.3,1.1,1]],
  [0,3,[45,40,55,48,35,42,30,24,28,20,16,19,13,10,12,8,6,7,5,4,4.5,3.2,2.5,2.8,2,1.6,1.8,1.3,1,1.2,0.9]],
];

const greyJaggedLow: Series[] = [
  [10,3,[0.4,0.7,1.2,1.9,2.6,2.4,3.2,3.9,4.4,4.1,4.9,5.6,5.1,4.7,5.2,4.4,4.1,3.6,3.9,3.3,3,3.4,2.9,2.7,2.5,2.9,3.3,3.1,3.7,4.3,4.1,4.8,5.5,5.2,6,6.9,6.4,7.2,8.1,8.8,8.3,9.4]],
  [30,3,[0.7,1,1.5,2.1,1.8,2.4,3.1,3.5,3.2,3.9,4.5,4.2,4.8,4.4,3.9,3.6,4,3.4,3.1,2.8,3.2,2.7,2.4,2.6,2.3,2.8,3.2,3,3.5,3.9,3.6,4.3,4.9,5.4,5.1,5.9,6.6,6.2,7.1,7.9,7.4]],
  [50,3,[1.8,2.2,2.7,2.5,3.1,3.7,3.4,4.1,4.4,4,3.7,4.2,3.8,3.4,3.1,3.5,2.9,3.2,2.8,2.6,3,3.5,3.3,3.9,3.6,3.4,4,4.5,4.2,4.8,5.3,4.9,5.4,5.9,5.5,6.2,6,6.7,7.3,6.9]],
  [70,3,[0.9,1.2,1.6,1.4,1.9,2.4,2.2,2.8,3.3,3,3.6,3.4,3.9,4.4,4.1,4.6,4.3,3.9,4.4,4.1,3.8,4.3,4.8,4.5,5,4.7,5.3,5.9,5.5,6.1,5.8,6.6,7.2,6.8,7.6,8.3,7.8,8.6,9.5,9]],
  [0,3,[2.5,3.3,3,4.1,4.7,4.3,5.4,6.1,5.6,6.4,5.9,5.3,5.8,4.9,4.5,5,4.2,3.8,4.1,3.6,3.3,3.7,3.1,2.9,3.2,2.8,2.6,3,2.7,2.5,2.9,3.3,3,3.5,3.2,3.8,4.3,3.9,4.6,5.1,4.7,5.5]],
  [90,3,[2.2,2.6,3.1,2.8,3.4,3.9,3.6,4.2,4,4.7,5.3,4.9,5.6,5.2,6,6.6,6.2,7,6.5,7.3,7.9,7.4,8.2,7.7,8.5,9.1,8.6,9.4,8.9,9.8]],
  [20,2,[0.5,0.8,1.3,1.1,1.7,2.3,2,2.7,3.2,2.9,3.5,3.1,3.8,4.3,4,4.6,4.2,3.8,4.3,3.9,3.5,3.8,3.3,3,3.4,2.9,2.7,3.1,2.8,2.5,2.3,2.6,2.2,2.5,2.9,2.6,3,3.4,3.1,3.6,4,3.7,4.2,4.7,4.3,4.9,5.5,5.1,5.7,6.3,5.9,6.6,7.3,6.8,7.6,8.4]],
  [60,2,[1.4,1.8,1.6,2.1,2.6,2.3,2.9,2.7,3.3,3.8,3.5,4.1,3.8,3.5,3.9,3.4,3.1,3.5,3.2,2.9,3.3,3,2.8,3.2,3.6,3.3,3.8,4.3,4,4.6,4.3,4.9,5.5,5.2,5.8,5.4,6.1,6.8,6.4,7.1,6.7,7.5,8.3,7.8,8.7]],
  [110,2,[0.9,1.1,1.4,1.2,1.6,2,1.8,2.3,2.1,2.6,3.1,2.8,3.3,3,3.6,4.1,3.8,4.4,4.1,4.7,5.3,4.9,5.6,5.2,5.9,6.6,6.2,7,6.5,7.3,8.1,7.6,8.4,7.9,8.8,9.7,9.1,10,9.5,10.6]],
  [40,3,[0.5,0.8,1.2,1.7,1.5,2.1,2.6,2.4,2.9,3.4,3.1,3.6,3.3,3,3.3,2.9,2.6,2.8,2.4,2.2,2.5,2.1,1.9,2.2,2,2.4,2.2,2.7,3.1,2.9,3.4,3.9,3.6,4.2,4.8,4.4,5.1,5.8,5.4,6.2,7,6.5]],
  [130,2,[1.6,1.9,2.3,2.1,2.6,3,2.8,3.3,3.8,3.5,4,4.6,4.3,4.9,5.5,5.1,5.8,6.5,6.1,6.8,7.6,7.1,8,8.9,8.4,9.3,10.3,9.7,10.8,12,11.3,12.5,13.8,13,14.4]],
  [0,2,[1,1.5,2.1,1.8,2.5,3.1,2.8,3.6,4.2,3.8,4.5,5.2,4.7,5.3,4.8,4.3,4.8,4.1,3.7,4.1,3.5,3.2,3.6,3,2.7,3,2.6,2.4,2.7,2.3,2.1,2.4,2,1.9,2.2,1.8,2.1,2.4,2.2,2.6,2.4,2.9,3.3,3,3.5,4,3.7,4.3]],
  [150,2,[2.8,3.2,3,3.6,4.1,3.8,4.4,5,4.6,5.3,4.9,5.6,6.3,5.9,6.6,6.2,7,7.8,7.3,8.1,7.6,8.5,9.4,8.8,9.8,9.2,10.2,11.3,10.6,11.7,11]],
  [25,3,[3,3.8,4.6,4.2,5.3,6.2,5.7,6.8,7.6,7,8.1,7.5,6.8,7.4,6.5,5.9,6.4,5.6,5.1,5.5,4.8,4.4,4.8,4.2,3.9,4.3,3.8,3.5,3.9,3.6,4.1,4.6,4.3,5,5.7,5.3,6.1,7,6.5,7.5,8.5,7.9,9.1,10.3]],
  [100,3,[1.2,1.5,1.9,1.7,2.2,2.7,2.4,3,2.8,3.4,4,3.7,4.3,4,4.7,5.4,5,5.8,5.3,6.1,7,6.5,7.4,6.9,7.8,8.8,8.2,9.3,8.6,9.7,11,10.2,11.4]],
  [160,3,[0.9,1.1,1.4,1.3,1.6,2,1.8,2.3,2.1,2.6,3.1,2.8,3.4,3.9,3.6,4.2,3.9,4.5,5.2,4.8,5.5,5.1]],
  [45,2,[2,2.6,2.3,3,3.6,3.3,4,4.6,4.2,4.9,4.5,5.2,4.8,4.3,4.8,4.2,3.8,4.2,3.7,3.4,3.8,3.3,3,3.4,3,3.5,4,3.6,4.2,3.8,4.4,5,4.6,5.3,6,5.5,6.3,5.8,6.6,7.5,6.9,7.8]],
  [75,3,[3.5,4.2,3.9,4.7,5.5,5.1,5.9,6.8,6.3,7.2,6.7,6.1,6.6,5.9,5.4,5.8,5.2,4.8,5.2,4.7,5.2,5.8,5.4,6.1,6.9,6.4,7.3,8.2,7.6,8.6,9.7,9,10.1,11.3,10.5,11.8,13.2]],
  [5,2,[0.4,0.7,1.1,1.6,2.2,2,2.7,3.3,3,3.7,4.3,3.9,4.5,4.1,3.7,4.1,3.6,3.3,3.6,3.2,2.9,2.6,2.9,2.5,2.3,2.6,2.2,2,2.3,2,1.8,2.1,1.9,1.7,2,1.8,2.1,2.4,2.2,2.6,2.4,2.8,3.2,2.9,3.4]],
  [125,2,[3.5,4,3.7,4.3,4.9,4.5,5.1,4.7,5.4,6.1,5.6,6.3,5.8,6.6,7.4,6.8,7.7,7.1,8,9,8.3,9.3,8.6,9.7,10.8,10,11.2,10.4,11.7,13]],
];

const greyVeryLow: Series[] = [
  [15,3,[0.3,0.5,0.8,1.1,0.9,1.3,1.7,1.5,2,1.8,1.4,1.6,1.2,1,1.2,0.9,0.8,1,0.85,0.7,0.9,1.1,0.95,1.3,1.6,1.4,1.8,2.2,1.9,2.4,2.1,2.6,3,2.7,3.3,2.9,3.5,4,3.6,4.3,3.9,4.6,5.2,4.8,5.5]],
  [30,3,[0.6,0.9,1.3,1.1,1.6,2,1.8,2.3,2.1,1.8,2,1.6,1.4,1.7,1.5,1.3,1.5,1.2,1.4,1.7,1.5,1.9,2.2,2,2.5,2.3,2.8,3.2,2.9,3.4,3.1,3.6,3.3,3.9,4.4,4,4.6,5.2,4.7,5.4,6]],
  [40,3,[0.4,0.6,0.9,0.8,1.1,1.4,1.2,1.6,1.9,1.7,2.1,1.8,1.5,1.7,1.4,1.2,1.4,1.1,0.95,1.1,0.9,1.05,1.25,1.1,1.4,1.3,1.6,1.9,1.7,2.1,1.9,2.3,2.7,2.4,2.9,2.6,3.1,2.8,3.3,3,3.6,4.1,3.7,4.3,4.9]],
  [60,3,[1.1,1.3,1.6,1.4,1.8,2.1,1.9,2.3,2.6,2.3,2,2.2,1.9,1.7,1.9,1.6,1.8,2.1,1.9,2.3,2.1,2.5,2.9,2.6,3,2.8,3.3,3.8,3.4,3.9,3.6,4.2,3.8,4.4,5,4.6,5.2,4.8,5.5]],
  [80,3,[0.5,0.7,0.9,0.8,1.1,1,1.3,1.6,1.4,1.7,1.5,1.9,2.2,2,2.4,2.1,1.8,2,1.7,1.9,2.2,2,2.4,2.8,2.5,2.9,2.6,3.1,3.6,3.2,3.7,3.4,4,4.6,4.2,4.8,5.4]],
  [100,3,[0.9,1.1,1,1.3,1.2,1.5,1.8,1.6,1.9,1.7,2,1.8,1.6,1.9,1.7,2,2.3,2.1,2.5,2.3,2.7,2.4,2.8,3.2,2.9,3.3,3,3.5,3.2,3.7,4.2,3.8,4.3,3.9,4.5]],
  [120,3,[0.4,0.6,0.5,0.8,0.7,1,1.2,1.1,1.4,1.3,1.6,1.5,1.8,1.6,1.9,2.2,2,2.3,2.1,2.5,2.8,2.6,3,2.7,3.2,2.9,3.4,3.9,3.5,4]],
  [10,3,[0.2,0.4,0.7,1,1.4,1.9,1.7,2.3,2.8,2.5,3,2.6,2.2,2.5,2,1.8,2.1,1.7,1.5,1.8,1.5,1.3,1.5,1.2,1.1,1.3,1.1,1,1.2,1,0.9,1.1,0.95,1.15,1.05,1.3,1.2,1.5,1.4,1.7,1.5,1.9,1.7,2.1]],
  [50,3,[0.7,0.9,0.8,1.1,1,1.3,1.2,0.95,1.1,0.85,0.75,0.9,0.7,0.6,0.75,0.65,0.8,0.7,0.9,1.1,1,1.2,1.1,1.4,1.3,1.6,1.9,1.7,2,1.8,2.2,2,2.4,2.8,2.5,2.9,3.4,3.1,3.6,4.2,3.8]],
  [140,3,[1.2,1.4,1.3,1.6,1.9,1.7,2,1.8,2.2,2.6,2.3,2.7,2.4,2.9,3.4,3,3.5,3.2,3.7,4.3,3.9,4.4,4]],
  [25,3,[1.5,2,2.6,2.3,2.9,3.5,3.1,2.7,3,2.5,2.2,2.4,2,1.8,2,1.7,1.5,1.7,1.4,1.6,1.3,1.2,1.4,1.2,1.1,1.3,1.15,1.35,1.25,1.5,1.4,1.7,2,1.8,2.1,1.9,2.3,2.7,2.4,2.8,3.2,2.9]],
  [70,3,[2.2,2.6,2.4,2.9,2.6,3.1,2.8,2.4,2.7,2.3,2,2.2,1.9,2.1,1.8,2,2.3,2.1,2.5,2.3,2.7,2.5,3,3.5,3.2,3.7,3.4,4,4.6,4.2,4.8,4.4,5.1,5.8,5.3,6,6.8]],
  [0,3,[0.6,1,1.5,1.3,1.9,2.5,2.2,2.8,2.4,2.1,2.4,1.9,1.7,1.9,1.5,1.3,1.5,1.2,1,1.15,0.95,0.85,1,0.9,1.05,0.95,1.1,1,1.2,1.4,1.25,1.5,1.35,1.6,1.9,1.7,2,1.8,2.2,2.6,2.3,2.7]],
  [90,3,[0.3,0.45,0.4,0.6,0.55,0.8,0.7,0.95,1.2,1.05,1.3,1.15,1.45,1.3,1.6,1.9,1.7,2,1.8,2.2,2,2.4,2.8,2.5,2.9,2.6,3.1,2.8,3.3,3.9,3.5,4]],
  [160,3,[0.6,0.8,0.7,1,0.9,1.2,1.1,1.4,1.7,1.5,1.8,1.6,1.9,2.3,2.1,2.4,2.2,2.6,2.4]],
  [35,2,[1,1.3,1.2,1.5,1.8,1.6,2,2.3,2.1,2.5,2.2,1.9,2.1,1.8,1.6,1.8,1.5,1.7,1.4,1.3,1.5,1.3,1.2,1.4,1.25,1.1,1.3,1.2,1.4,1.6,1.5,1.8,1.6,1.9,2.2,2,2.4,2.2,2.6,2.4,2.9,3.3,3,3.5,3.2,3.7,4.2,3.9,4.5,4.1,4.7]],
  [110,2,[1.5,1.7,1.6,1.9,1.7,2,2.3,2.1,2.4,2.2,2.5,2.8,2.5,2.9,2.6,3,2.7,3.1,2.8,3.2,3.6,3.3,3.7,3.4,3.9,3.5,4,4.5,4.1,4.6,4.2,4.8,4.4,5,5.6,5.1,5.7,5.2,5.9,6.6,6,6.8,6.2,7]],
  [180,2,[1.8,2,1.9,2.2,2,2.4,2.2,2.6,2.3,2.7,2.5,2.9,2.6,3,2.8,3.2,2.9,3.4]],
  [100,3,[0.5,0.7,0.6,0.9,0.8,1.1,1,0.85,1,0.8,0.7,0.85,0.75,0.9,1.1,1,1.25,1.1,1.4,1.3,1.6,1.45,1.8,2.1,1.9,2.3,2.1,2.6,2.3,2.8,3.2,2.9,3.4,3.1,3.6,4.2,3.8,4.4]],
  [120,3,[1.3,1.5,1.4,1.7,1.6,1.4,1.6,1.3,1.2,1.4,1.25,1.45,1.3,1.6,1.8,1.65,1.95,1.8,2.1,2.5,2.2,2.6,2.4,2.8,3.3,3,3.4,3.1,3.7,4.2,3.8]],
  [85,3,[0.9,1.2,1.1,1.5,1.9,1.7,2.2,2,1.7,1.9,1.6,1.4,1.6,1.35,1.2,1.35,1.15,1.05,1.2,1.1,1.3,1.2,1.45,1.7,1.55,1.8,1.65,1.95,2.3,2.1,2.5,2.3,2.7,3.1,2.8,3.2,3.6,3.3,3.8,4.3,3.9]],
  [140,2,[0.6,0.75,0.7,0.9,0.8,1,0.95,1.15,1.05,1.3,1.2,1.45,1.3,1.6,1.5,1.75,1.6,1.9,2.2,2,2.3,2.1,2.5,2.3,2.7,3.1,2.8,3.2,2.9,3.4,3.1,3.6,4.1,3.7,4.2,3.8,4.4]],
  [60,3,[2.5,2.9,2.7,3.2,2.9,2.5,2.8,2.4,2.1,2.3,2,1.8,2,1.7,1.6,1.8,1.55,1.4,1.55,1.35,1.25,1.4,1.3,1.5,1.4,1.65,1.9,1.75,2.05,1.9,2.2,2.6,2.35,2.7,2.5,2.9,3.4,3.1,3.6,3.3,3.9,4.5,4.1,4.7,5.4,4.9]],
  [20,3,[0.5,0.8,1.2,1,1.4,1.8,1.6,2.1,1.9,1.6,1.8,1.5,1.3,1.5,1.25,1.1,1.25,1.05,0.95,1.1,0.9,0.8,0.95,0.85,0.75,0.9,0.8,0.95,0.9,1.05,1.2,1.1,1.3,1.2,1.45,1.7,1.55,1.8,2.1,1.9,2.3,2.1,2.5,2.9,2.6,3,3.5,3.2,3.7,4.3,3.9,4.5,5.2]],
  [170,2,[0.9,1.05,1,1.2,1.1,1.35,1.25,1.5,1.35,1.6,1.45,1.7,1.55,1.8,1.65,1.95,1.8,2.1,1.9,2.2]],
  [110,3,[3,3.4,3.1,3.6,4.1,3.7,4.2,3.8,3.4,3.7,3.2,2.9,3.2,2.8,2.6,2.9,2.6,3,2.7,3.1,3.6,3.3,3.8,3.5,4,4.6,4.2,4.8,4.4,5,4.6,5.3,6]],
  [120,3,[0.5,0.6,0.75,0.7,0.9,0.85,1.05,0.95,0.8,0.9,0.75,0.85,1,0.9,1.1,1.3,1.2,1.4,1.3,1.55,1.8,1.65,1.9,2.2,2,2.3,2.6,2.4,2.8,3.2,2.9,3.3,3]],
  [130,2,[0.9,1,0.95,1.1,1.25,1.15,1.3,1.2,1.05,1.15,1,0.9,1,0.85,0.95,1.1,1,1.15,1.3,1.2,1.4,1.3,1.5,1.7,1.6,1.85,1.7,2,2.3,2.1,2.4,2.2,2.6,3,2.7,3.1,2.9,3.3,3.8,3.4,3.9,3.6,4.1]],
  [150,2,[1.6,1.8,1.7,1.95,1.8,1.6,1.75,1.55,1.45,1.6,1.4,1.3,1.45,1.35,1.55,1.75,1.6,1.85,1.7,2,2.3,2.1,2.4,2.2,2.55,2.9,2.7,3.05,2.8,3.2]],
  [165,2,[2.4,2.7,2.5,2.9,2.6,2.3,2.5,2.2,2,2.2,1.9,2.1,2.4,2.2,2.5,2.3,2.7,3.1,2.8,3.2,2.9,3.4,3.9]],
  [175,2,[0.7,0.8,0.75,0.9,0.85,1,0.95,1.1,1.25,1.15,1.3,1.2,1.4,1.3,1.5,1.7,1.6,1.8]],
  [140,3,[3.2,3.6,3.3,3.8,3.5,3.1,3.4,3,2.7,3,2.6,2.4,2.7,2.5,2.8,3.2,2.9,3.3,3.7,3.4,3.8,3.5,4]],
  [95,3,[1.9,2.2,2,2.4,2.1,1.8,2,1.7,1.5,1.7,1.45,1.3,1.45,1.25,1.15,1.3,1.2,1.05,1.2,1.1,1.3,1.5,1.35,1.6,1.45,1.7,2,1.8,2.1,1.9,2.2,2.6,2.3,2.7,2.5,2.9,3.4,3.1,3.6]],
  [185,2,[4.5,4.9,4.6,5.1,4.7,4.3,4.6,4.2,3.9,4.2,3.8,4.1,4.5,4.2,4.7]],
];

const greyEarly: Series[] = [
  [0,2,[0.3,0.6,1.1,1.9,3,4.6,6.5,9,12,15,19,23,27,31,29,33,30,27,29,25,22,24,20,18,19,16,14,15,13,11.5,12,10.5,9.5,10,8.8,8,8.5,7.6,7,7.4,6.7]],
  [3,2,[0.2,0.4,0.8,1.4,2.3,3.6,5.3,7.5,10,13,16,19,22,21,24,22,19,20,17,15,16,13.5,12,12.5,11,9.8,10.2,9,8.1,8.6,7.7,7,7.4,6.8,6.2]],
  [6,2,[0.3,0.6,1.1,1.8,2.8,4.2,6,8.3,11,14,18,23,28,34,39,44,41,46,42,38,40,35,31,33,29,26,27,24,21,22,19.5,17.5,18,16,14.5,15,13.5,12]],
  [2,2,[0.5,0.9,1.5,2.4,3.6,5.1,6.8,8.6,10.4,12,11.4,13,12.2,11,11.6,10.2,9.2,9.6,8.4,7.6,8,7,6.3,6.6,5.9,5.3,5.6,5,4.5,4.8,4.3,3.9,4.1,3.7,3.4]],
  [8,2,[0.2,0.5,1,1.7,2.8,4.3,6.2,8.6,11.5,15,19,24,29,35,41,47,52,49,55,51,47,50,44,40,42,37,33,35,31,28,29,26,23,24,21,19.5,20,18]],
  [4,2,[0.4,0.8,1.4,2.3,3.4,4.8,6.3,5.9,7.6,9.2,8.7,10.3,9.5,8.6,9.1,8,7.2,7.6,6.7,6,6.3,5.5,5,5.3,4.7,4.2,4.4,3.9,3.6,3.8,3.4,3.1,3.3,3,2.8,3,2.7,2.9,3.2,3,3.4]],
  [12,2,[0.3,0.6,1.1,1.9,3,4.5,6.4,8.8,11.6,15,18.5,22,21,25,28,26,29,27,24,26,23,21,22,19.5,18,19,17,15.5,16,14.5,13.5,14,12.8,12,12.5,11.6,11,11.5,10.8,11.3,12,11.5,12.4,13.2,12.7,13.8]],
  [1,2,[1,1.6,2.5,3.8,5.4,7.3,9.4,8.8,11,13,12.2,14,13,11.8,12.4,11,9.8,10.3,9.1,8.2,8.6,7.6,6.9,7.2,6.4,5.8,6.1,5.4,4.9,5.1,4.6,4.2,4.4,4,3.7,3.9,3.6,3.8,4.1,3.9,4.3]],
  [15,2,[0.4,0.8,1.4,2.3,3.6,5.4,7.8,10.8,14.5,19,24,30,36,42,40,45,42,38,40,35,32,33,29,26,27,24,22,22.5,20,18.5,19,17,16,16.5,15,14,14.5,13.5,14.2,15,14.4,15.6,16.8,16.2,17.6,19]],
  [0,2,[0.8,1.5,2.6,4.1,6,8.3,11,14,17,16,19,22,20,17,18,15,13.5,14,12,10.5,11,9.5,8.5,8.9,7.8,7,7.3,6.4,5.8,6.1,5.4,4.9,5.1,4.6,4.2,4.4,4,3.7,3.9,3.6]],
];

const greyRight: Series[] = [
  [180,2,[45,42,40,36,33,30,28,26,24,22,20,18,16,14,13,11.8,11.2,10.4,8.3,6.2,5.9,7.6,10.2,9.6,10.2,7.6,5.2,4.0,3.4,3.15,2.9,2.6,3.24,2.95,2.47,2.3]],
  [170,3,[5,4.6,4.2,4,3.7,3.4,3.2,3,2.8,2.7,2.6,2.55,2.3,2.1,2,1.85,1.75,1.7,1.65,1.3,1.32,1.45,1.67,1.46,1.45,1.55]],
  [190,2,[5.5,5,4.8,4.5,4.2,4,3.77,3.6,3.48,3.41,3.85,3.52,3.41,4.2,4.1,4.05,4.5,3.9,4.0,4.1]],
  [190,2,[0.3,0.35,0.4,0.45,0.5,0.55,0.6,0.7,1.0,2.3,7,7.6,8.9,7.3]],
  [190,2,[1.2,1.5,1.8,2.1,2.5,3,3.5,4.2,5,6,9,12,15,17,20,25,30,35,50,78]],
  [180,2,[22,20,19,17,16,15,14,13,12,11.5,11,10.5,10,9.8,9.5,9.6,9.5,11,12.9,13.3,13.7,14.5,15.4]],
  [176,3,[60,70,80,90,100,110,120,135,150,165,180,195,210,225,240,253,257,265,250]],
  [170,3,[60,75,90,110,130,150,175,200,230,260,300,350,420,500,560,600,550,475,420,385,345]],
  [180,3,[50,60,70,80,90,100,110,120,130,140,150,160,165,150,145,150]],
  [176,3,[90,100,110,120,130,140,150,160,170,180,190,200,210,220,230,240,250,255]],
  [160,3,[100,120,140,160,180,200,220,250,280,320,370,420,480,540,580,620]],
  [195,2,[1.5,1.4,1.3,1.25,1.2,1.18,1.15,1.13,1.2,1.25,1.2,1.15,1.1]],
];

// ---------- styling ----------
const FONT = "'Open Sans', 'Noto Sans', sans-serif";
const BG = "#fdf0e6";
const GRID = "#e8dbcf";
const GREY = "#b0a9a2";
const PINK = "#e9568c";
const BLUE = "#0f5499";
const AXIS_TEXT = "#66605c";

const tf = (v: number) => Math.log10(v + 1);
const inv = (t: number) => Math.pow(10, t) - 1;

const endLabels = {
  id: "endLabels",
  afterDatasetsDraw(chart: any) {
    const ctx = chart.ctx;
    const items = [
      { idx: 0, color: PINK, text: "Netherlands", dx: 15 },
      { idx: 2, color: BLUE, text: "Ukraine", dx: 16 },
    ];
    items.forEach((it) => {
      const meta = chart.getDatasetMeta(it.idx);
      const pt = meta.data[meta.data.length - 1];
      if (!pt) return;
      ctx.save();
      ctx.beginPath();
      ctx.arc(pt.x, pt.y, 6.5, 0, Math.PI * 2);
      ctx.fillStyle = it.color;
      ctx.fill();
      ctx.font = `22px ${FONT}`;
      ctx.textBaseline = "middle";
      ctx.textAlign = "left";
      ctx.lineWidth = 4;
      ctx.strokeStyle = BG;
      ctx.lineJoin = "round";
      ctx.strokeText(it.text, pt.x + it.dx, pt.y);
      ctx.fillStyle = it.color;
      ctx.fillText(it.text, pt.x + it.dx, pt.y);
      ctx.restore();
    });
  },
};

export default function App() {
  const canvasRef = useRef<HTMLCanvasElement | null>(null);

  useEffect(() => {
    if (!canvasRef.current) return;
    const toPoints = (days: number[], vals: number[]) =>
      days.map((d, i) => ({ x: d, y: tf(vals[i]) }));
    const nl = toPoints(netherlandsDays, netherlandsCases);
    const ua = toPoints(ukraineDays, ukraineCases);

    const allGrey = [...greyHigh, ...greyMid, ...greyJaggedMid, ...greyUpperMid, ...greyLow, ...greyJaggedLow, ...greyVeryLow, ...greyEarly, ...greyRight];
    const greyDatasets = allGrey.map(([start, step, vals]) => ({
      label: "",
      data: vals.map((v, i) => ({ x: start + i * step, y: tf(v) })),
      borderColor: GREY,
      borderWidth: 1.6,
      pointRadius: 0,
      tension: 0,
      order: 10,
    }));

    const chart = new Chart(canvasRef.current, {
      type: "line",
      data: {
        datasets: [
          { label: "Netherlands", data: nl, borderColor: PINK, borderWidth: 3.6, pointRadius: 0, borderJoinStyle: "round", borderCapStyle: "round", order: 0 },
          { label: "nl-halo", data: nl, borderColor: "#ffffff", borderWidth: 6, pointRadius: 0, borderJoinStyle: "round", order: 1 },
          { label: "Ukraine", data: ua, borderColor: BLUE, borderWidth: 3.8, pointRadius: 0, borderJoinStyle: "round", borderCapStyle: "round", order: 2 },
          { label: "ua-halo", data: ua, borderColor: "#ffffff", borderWidth: 6.2, pointRadius: 0, borderJoinStyle: "round", order: 3 },
          ...greyDatasets,
        ] as any,
      },
      options: {
        animation: false,
        responsive: false,
        maintainAspectRatio: false,
        events: [],
        layout: { padding: { top: 158, left: 0, right: 0, bottom: 0 } },
        plugins: { legend: { display: false }, tooltip: { enabled: false }, title: { display: false } },
        scales: {
          x: {
            type: "linear",
            min: 0,
            max: xMaxDay,
            afterBuildTicks: (scale: any) => {
              const t = [];
              for (let v = 0; v <= xMaxDay; v += xTickStep) t.push({ value: v });
              scale.ticks = t;
            },
            afterFit: (scale: any) => { scale.height = 40.5; },
            ticks: { font: { family: FONT, size: 20 }, color: AXIS_TEXT, autoSkip: false },
            grid: { color: GRID, lineWidth: 1.5, drawTicks: false },
            border: { display: false },
          },
          y: {
            type: "linear",
            min: 0,
            max: tf(yMaxValue),
            afterBuildTicks: (scale: any) => {
              scale.ticks = yTickValues.map((v) => ({ value: tf(v) }));
            },
            afterFit: (scale: any) => { scale.width = 83.5; },
            ticks: {
              callback: (val: any) => String(Math.round(inv(Number(val)))),
              font: { family: FONT, size: 22.5 },
              color: AXIS_TEXT,
              padding: 7,
            },
            grid: { color: GRID, lineWidth: 1.5, drawTicks: false },
            border: { display: false },
          },
        },
      } as any,
      plugins: [endLabels],
    });
    return () => chart.destroy();
  }, []);

  return (
    <div style={{ position: "fixed", left: 0, top: 0, width: "100vw", height: "100vh", overflow: "hidden", background: BG }}>
      <div style={{ position: "absolute", left: 80, right: 0, top: 0, height: 7, background: "#ffffff", borderBottom: "1px solid #dadada" }} />
      <canvas ref={canvasRef} width={1636} height={1003} style={{ position: "absolute", left: 0, top: 0, width: 1636, height: 1003 }} />
      <div style={{ position: "absolute", left: 30, top: 15.5, fontFamily: FONT, fontSize: 29.3, lineHeight: "30px", color: "#1e1c1b", whiteSpace: "nowrap" }}>
        New confirmed cases of Covid-19 in Ukraine and Netherlands
      </div>
      <div style={{ position: "absolute", left: 30, top: 67.5, fontFamily: FONT, fontSize: 22.4, lineHeight: "24px", color: AXIS_TEXT, whiteSpace: "nowrap" }}>
        Seven-day rolling average of new cases (per million), by number of days since 0.1 average daily cases (per million) first recorded
      </div>
    </div>
  );
}
